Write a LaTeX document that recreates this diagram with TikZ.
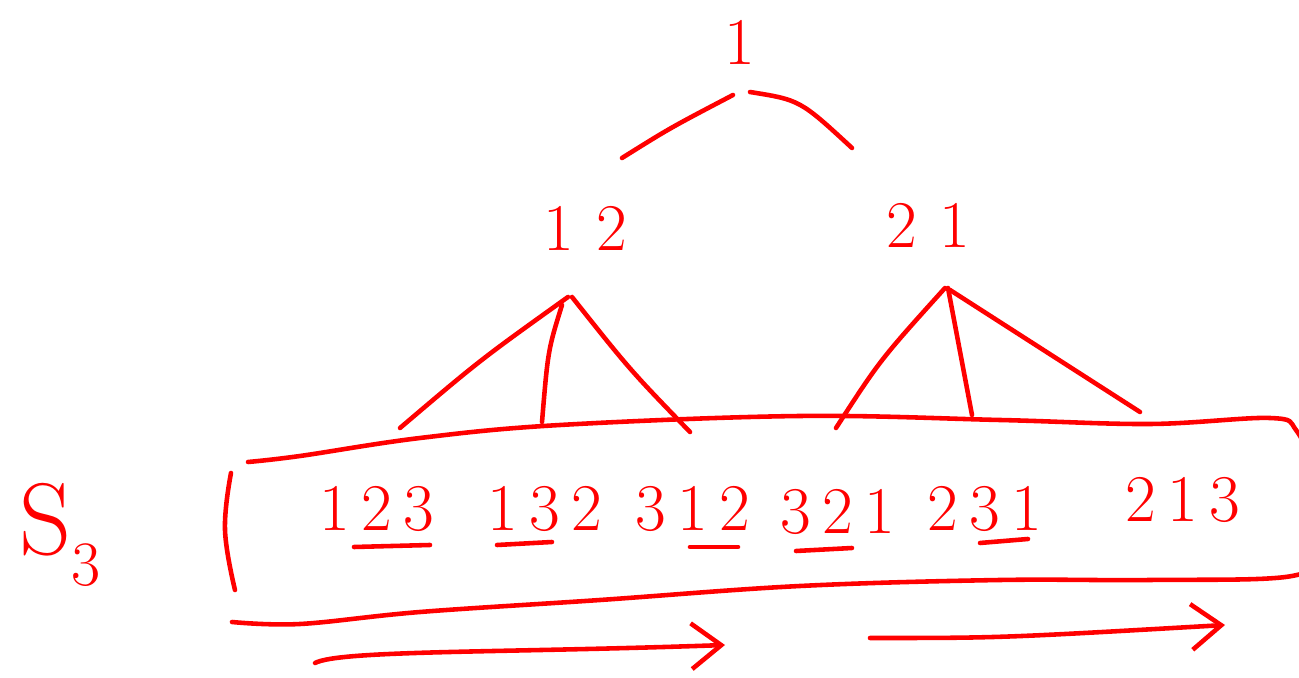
\documentclass[tikz,border=0pt]{standalone}
\usetikzlibrary{arrows.meta}
\begin{document}
\begin{tikzpicture}[x=0.02cm,y=-0.02cm,
    pen/.style={draw=red, line width=2.6pt, line cap=round, line join=round},
    digits/.style={text=red, font=\fontsize{38}{42}\selectfont, inner sep=0pt},
    barb/.style={-{Straight Barb[length=17pt,width=26pt,line width=2.6pt]}}]

    \useasboundingbox (0,0) rectangle (1299,678);

    % niveles del arbol
    \node[digits] (root) at (740,42) {1};
    \node[digits] (n12) at (585,228) {1\,\,2};
    \node[digits] (n21) at (928,225) {2\,\,1};

    % puntos donde nacen y acaban las ramas
    \coordinate (rl) at (622,158);
    \coordinate (rr) at (852,148);
    \coordinate (a12) at (568,297);
    \coordinate (a21) at (945,288);
    \foreach \n/\x/\y in {b1/400/428, b2/542/422, b3/690/432,
                          b4/836/428, b5/972/415, b6/1140/412}
        \coordinate (\n) at (\x,\y);

    % ramas desde la raiz
    \draw[pen] (rl) .. controls (670,128) .. (733,95);
    \draw[pen] (750,92) .. controls (800,100) .. (rr);

    % ramas desde 12 y 21
    \draw[pen] (a12) .. controls (480,360) .. (b1);
    \draw[pen] (562,305) .. controls (548,350) .. (b2);
    \draw[pen] (572,297) .. controls (630,370) .. (b3);
    \draw[pen] (a21) .. controls (880,360) .. (b4);
    \draw[pen] (948,288) -- (b5);
    \draw[pen] (950,290) -- (b6);

    % el conjunto S_3
    \node[text=red, font=\fontsize{58}{60}\selectfont, inner sep=0pt] (sym) at (60,535)
        {S\raisebox{-0.3em}{\fontsize{36}{40}\selectfont 3}};
    \draw[pen] plot[smooth, tension=0.6] coordinates {
        (248,462) (300,456) (420,438) (560,425) (800,416) (1000,420)
        (1150,424) (1270,418) (1296,430) (1310,470) (1310,550)
        (1292,576) (1150,580) (1000,580) (800,586) (600,600)
        (420,612) (300,624) (232,622)};
    \draw[pen] plot[smooth, tension=0.7] coordinates {
        (231,473) (225,530) (235,590)};

    % permutaciones
    \node[digits] (p1) at (377,509) {1\,2\,3};
    \node[digits] (p2) at (545,509) {1\,3\,2};
    \node[digits] (p3) at (693,509) {3\,1\,2};
    \node[digits] (p4) at (838,512) {3\,2\,1};
    \node[digits] (p5) at (985,509) {2\,3\,1};
    \node[digits] (p6) at (1183,500) {2\,1\,3};

    % subrayados
    \draw[pen] (354,547) -- (430,545);
    \draw[pen] (497,545) -- (552,542);
    \draw[pen] (690,547) -- (738,547);
    \draw[pen] (796,551) -- (852,548);
    \draw[pen] (980,543) -- (1028,539);

    % flechas de recorrido
    \coordinate (f1) at (315,663);
    \coordinate (f2) at (725,645);
    \coordinate (f3) at (870,638);
    \coordinate (f4) at (1225,625);
    \draw[pen, barb] (f1) .. controls (340,650) and (500,653) .. (f2);
    \draw[pen, barb] (f3) .. controls (1000,638) .. (f4);

\end{tikzpicture}
\end{document}
